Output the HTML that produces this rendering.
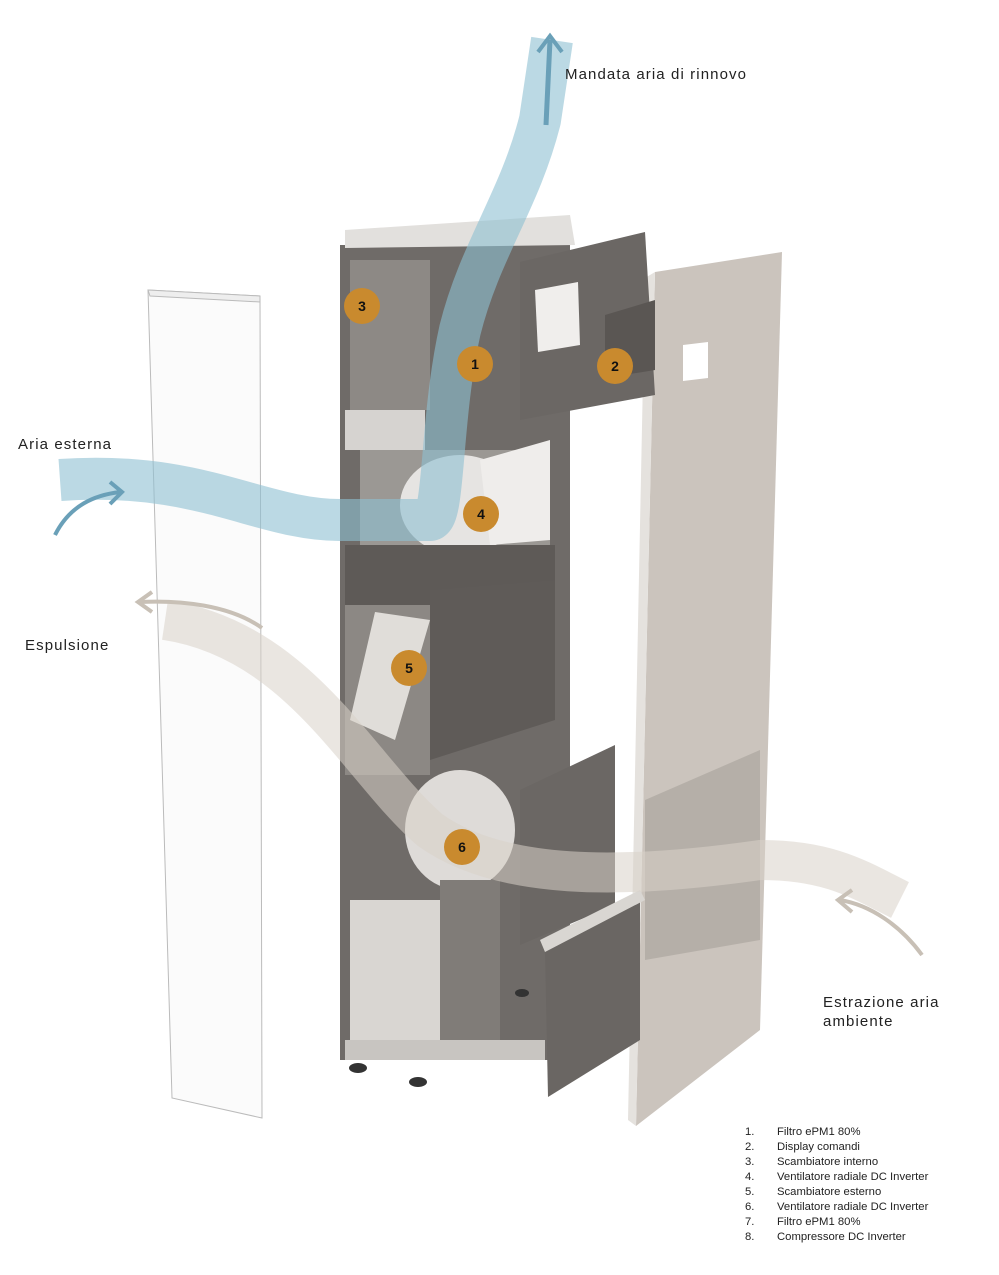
<!DOCTYPE html>
<html><head><meta charset="utf-8"><style>
body{margin:0;background:#fff;width:999px;height:1275px;overflow:hidden;font-family:"Liberation Sans",sans-serif}
svg{position:absolute;left:0;top:0}
.t{position:absolute;font-size:15px;color:#222;letter-spacing:1.1px}
.leg{position:absolute;left:745px;top:1125px;font-size:11.3px;color:#222;line-height:15px}
.leg span{display:inline-block;width:32px}
</style></head><body>
<svg width="999" height="1275" viewBox="0 0 999 1275">
<polygon points="148,290 260,296 262,1118 172,1098" fill="#fbfbfb" stroke="#bbb" stroke-width="1"/>
<polygon points="148,290 260,296 260,302 150,296" fill="#eee" stroke="#bbb"/>
<polygon points="655,272 782,252 760,1030 636,1126" fill="#cbc4bd"/>
<polygon points="645,278 655,272 636,1126 628,1120" fill="#e5e2de"/>
<polygon points="683,345 708,342 708,378 683,381" fill="#fff"/>
<polygon points="645,800 760,750 760,940 645,960" fill="#b5afa8"/>
<polygon points="340,245 570,245 570,1060 340,1060" fill="#6f6b68"/>
<polygon points="345,230 570,215 575,245 345,248" fill="#e2e0dd"/>
<rect x="350" y="260" width="80" height="150" fill="#8d8985"/>
<rect x="345" y="410" width="80" height="40" fill="#d6d3d0"/>
<rect x="360" y="450" width="190" height="95" fill="#9b9894"/>
<ellipse cx="460" cy="505" rx="60" ry="50" fill="#e6e4e2"/>
<polygon points="480,460 550,440 550,540 490,545" fill="#efedeb"/>
<polygon points="345,545 555,545 555,605 345,610" fill="#5e5a57"/>
<rect x="345" y="605" width="85" height="170" fill="#8c8884"/>
<polygon points="350,720 375,612 430,620 395,740" fill="#e0ddd9"/>
<polygon points="430,590 555,580 555,720 430,760" fill="#5f5b58"/>
<ellipse cx="460" cy="830" rx="55" ry="60" fill="#dedbd8"/>
<rect x="350" y="900" width="90" height="150" fill="#d9d6d2"/>
<rect x="440" y="880" width="60" height="170" fill="#807c78"/>
<rect x="345" y="1040" width="200" height="20" fill="#c8c5c1"/>
<ellipse cx="358" cy="1068" rx="9" ry="5" fill="#333"/>
<ellipse cx="418" cy="1082" rx="9" ry="5" fill="#333"/>
<ellipse cx="522" cy="993" rx="7" ry="4" fill="#333"/>
<polygon points="520,262 645,232 655,395 520,420" fill="#6b6764"/>
<polygon points="535,290 578,282 580,345 538,352" fill="#f0eeec"/>
<polygon points="605,315 655,300 655,370 605,378" fill="#5a5653"/>
<polygon points="520,790 615,745 615,905 520,945" fill="#6b6764"/>
<polygon points="545,950 640,895 640,1040 548,1097" fill="#6a6663"/>
<polygon points="540,940 640,890 645,900 545,952" fill="#d9d6d2"/>
<path d="M60,480 C200,470 260,520 340,520 L430,520 C445,520 440,420 460,330 C480,250 520,200 540,120 L552,40" fill="none" stroke="#8ec0d2" stroke-width="42" stroke-opacity="0.6"/>
<path d="M55,535 C70,505 95,495 120,492" fill="none" stroke="#6aa0b8" stroke-width="4"/>
<polyline points="110,482 122,492 110,504" fill="none" stroke="#6aa0b8" stroke-width="4"/>
<path d="M546,125 L550,40" stroke="#6aa0b8" stroke-width="5"/>
<polyline points="538,52 550,36 562,52" fill="none" stroke="#6aa0b8" stroke-width="4"/>
<path d="M165,620 C300,640 360,770 430,830 C500,880 620,880 760,860 C830,860 860,880 900,900" fill="none" stroke="#d8d2c8" stroke-width="40" stroke-opacity="0.55"/>
<path d="M262,628 C230,605 180,600 140,602" fill="none" stroke="#c8c0b6" stroke-width="4"/>
<polyline points="152,592 138,602 152,612" fill="none" stroke="#c8c0b6" stroke-width="4"/>
<path d="M922,955 C900,925 870,905 840,900" fill="none" stroke="#c8c0b6" stroke-width="4"/>
<polyline points="852,890 838,900 852,912" fill="none" stroke="#c8c0b6" stroke-width="4"/>
<g fill="#c98a2e"><circle cx="362" cy="306" r="18"/><circle cx="475" cy="364" r="18"/><circle cx="615" cy="366" r="18"/><circle cx="481" cy="514" r="18"/><circle cx="409" cy="668" r="18"/><circle cx="462" cy="847" r="18"/></g>
<g font-family="Liberation Sans" font-weight="bold" font-size="14" fill="#111" text-anchor="middle">
<text x="362" y="311">3</text><text x="475" y="369">1</text><text x="615" y="371">2</text><text x="481" y="519">4</text><text x="409" y="673">5</text><text x="462" y="852">6</text></g>
</svg>
<div class="t" style="left:565px;top:66px">Mandata aria di rinnovo</div>
<div class="t" style="left:18px;top:436px">Aria esterna</div>
<div class="t" style="left:25px;top:637px">Espulsione</div>
<div class="t" style="left:823px;top:993px;line-height:19px">Estrazione aria<br>ambiente</div>
<div class="leg">
<div><span>1.</span>Filtro ePM1 80%</div>
<div><span>2.</span>Display comandi</div>
<div><span>3.</span>Scambiatore interno</div>
<div><span>4.</span>Ventilatore radiale DC Inverter</div>
<div><span>5.</span>Scambiatore esterno</div>
<div><span>6.</span>Ventilatore radiale DC Inverter</div>
<div><span>7.</span>Filtro ePM1 80%</div>
<div><span>8.</span>Compressore DC Inverter</div>
</div>
</body></html>
